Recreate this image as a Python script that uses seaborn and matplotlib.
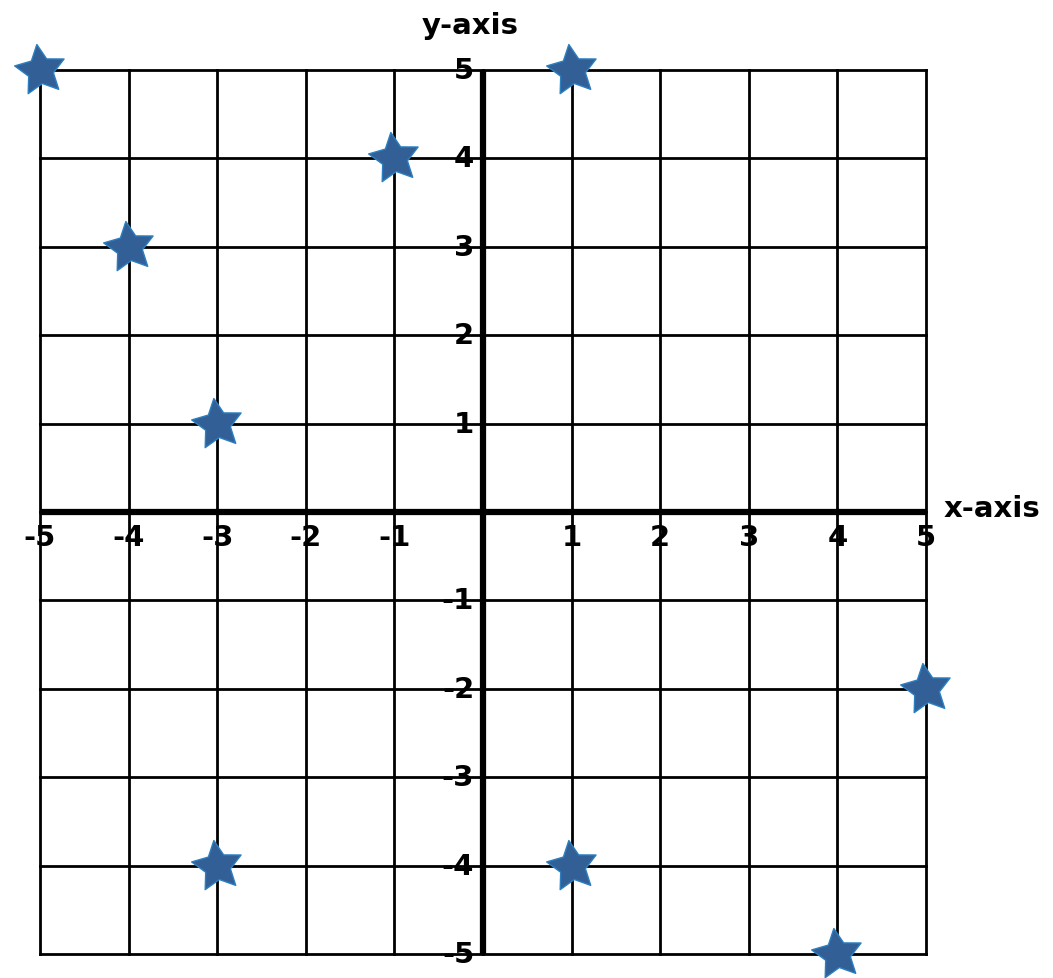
import numpy as np
import pandas as pd
import matplotlib.pyplot as plt
import seaborn as sns
from matplotlib.markers import MarkerStyle
from matplotlib.path import Path

sns.set_style("white")
plt.rcParams["font.family"] = ["DejaVu Sans"]
plt.rcParams["text.color"] = "black"

# star positions
star_x = [-5, -4, -3, -1, 1, 5, -3, 1, 4]
star_y = [5, 3, 1, 4, 5, -2, -4, -4, -5]
ticks = [-5, -4, -3, -2, -1, 1, 2, 3, 4, 5]
grid_vals = list(range(-5, 6))

df = pd.DataFrame({"x": star_x, "y": star_y})

# fatter five-point star, tilted a little to the left
ang = np.deg2rad(90 + 8 + np.arange(10) * 36)
rad = np.where(np.arange(10) % 2 == 0, 1.0, 0.5)
verts = np.column_stack([rad * np.cos(ang), rad * np.sin(ang)])
verts = np.vstack([verts, verts[:1]])
star = MarkerStyle(Path(verts, closed=True))

W, H = 1053, 979
fig = plt.figure(figsize=(W / 100, H / 100), dpi=100)
ax = fig.add_axes([40 / W, (H - 955) / H, (926 - 40) / W, (955 - 71) / H])
ax.set_xlim(-5, 5)
ax.set_ylim(-5, 5)
ax.axis("off")

for v in grid_vals:
    ax.axvline(v, color="black", lw=2, zorder=1, clip_on=False, solid_capstyle="projecting")
    ax.axhline(v, color="black", lw=2, zorder=1, clip_on=False, solid_capstyle="projecting")
ax.axvline(0, color="black", lw=4.5, zorder=2, solid_capstyle="butt")
ax.axhline(0, color="black", lw=4.5, zorder=2, solid_capstyle="butt")

for t in ticks:
    ax.text(t, -0.12, str(t), ha="center", va="top", fontsize=21, fontweight="bold", zorder=3)
    ax.text(-0.1, t, str(t), ha="right", va="center", fontsize=21, fontweight="bold", zorder=3)

ax.text(-0.15, 5.35, "y-axis", ha="center", va="bottom", fontsize=21, fontweight="bold")
ax.text(5.2, 0.05, "x-axis", ha="left", va="center", fontsize=21, fontweight="bold")

sns.scatterplot(data=df, x="x", y="y", marker=star, s=1400, color="#335f97",
                edgecolor="#2b7fc0", linewidth=1, ax=ax, zorder=4, clip_on=False, legend=False)

fig.savefig("out.png", dpi=100)
